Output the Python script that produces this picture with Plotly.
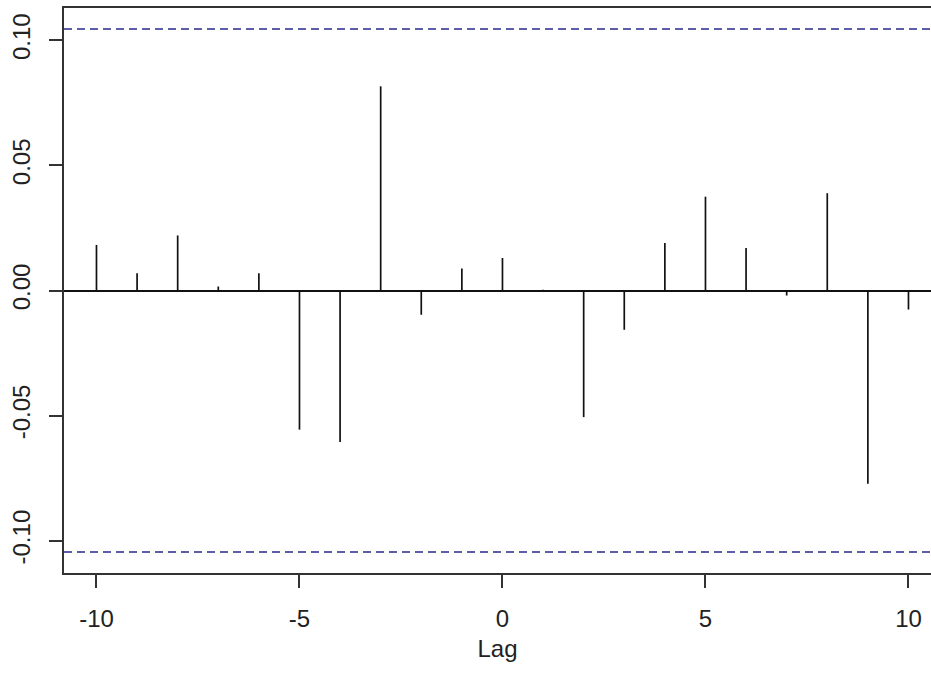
import plotly.graph_objects as go

lags = [-10, -9, -8, -7, -6, -5, -4, -3, -2, -1, 0, 1, 2, 3, 4, 5, 6, 7, 8, 9, 10]
ccf_values = [0.0182, 0.0069, 0.0220, 0.0016, 0.0069, -0.0556, -0.0605, 0.0816, -0.0097, 0.0088,
              0.0130, 0.0003, -0.0506, -0.0157, 0.0190, 0.0375, 0.0170, -0.0020, 0.0389, -0.0772, -0.0076]
conf_limit = 0.1045
x_ticks = [-10, -5, 0, 5, 10]
y_ticks = [-0.10, -0.05, 0.0, 0.05, 0.10]
y_tick_labels = ["-0.10", "-0.05", "0.00", "0.05", "0.10"]

xs, ys = [], []
for l, v in zip(lags, ccf_values):
    xs += [l, l, None]
    ys += [0, v, None]

fig = go.Figure()
fig.add_trace(go.Scatter(x=xs, y=ys, mode="lines",
                         line=dict(color="#111111", width=1.7),
                         showlegend=False, hoverinfo="skip"))
for c in (conf_limit, -conf_limit):
    fig.add_hline(y=c, line=dict(color="#2a2a8c", width=1.5, dash="8px,5px"))

fig.update_layout(
    width=931, height=691,
    margin=dict(l=64, r=0, t=8, b=118),
    plot_bgcolor="white", paper_bgcolor="white",
    font=dict(family="Liberation Sans, Arial", size=24, color="#222222"),
    showlegend=False,
)
fig.update_xaxes(
    range=[-10.8, 10.555], tickvals=x_ticks, ticktext=[str(t) for t in x_ticks],
    showgrid=False, zeroline=False, automargin=False,
    showline=True, mirror=True, linecolor="#333333", linewidth=1.5,
    ticks="outside", ticklen=13, tickwidth=1.5, tickcolor="#333333",
    ticklabelstandoff=10,
    title=dict(text="Lag", font=dict(size=24), standoff=10),
)
fig.update_yaxes(
    range=[-0.1129, 0.1129], tickvals=y_ticks, ticktext=y_tick_labels,
    tickangle=-90, showgrid=False, automargin=False,
    zeroline=True, zerolinecolor="#111111", zerolinewidth=1.5,
    showline=True, mirror=False, linecolor="#333333", linewidth=1.5,
    ticks="outside", ticklen=13, tickwidth=1.5, tickcolor="#333333",
    ticklabelstandoff=10,
)

fig.write_html("out.html", config={"displayModeBar": False},
               post_script="document.body.style.margin='0';")
